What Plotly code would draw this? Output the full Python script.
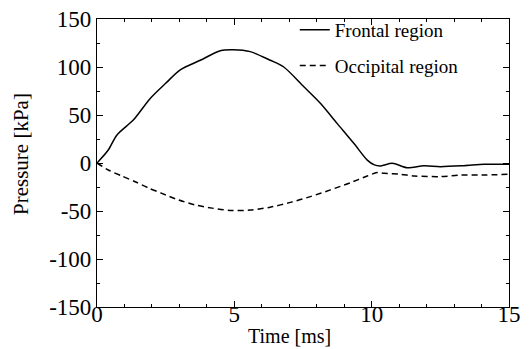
import plotly.graph_objects as go

# Frontal region (solid)
frontal_t = [0, 0.41, 0.72, 1.33, 1.93, 2.5, 3.03, 3.76, 4.49, 4.97, 5.58, 6.31, 6.8, 7.53,
             8.14, 8.75, 9.35, 9.84, 10.1, 10.33, 10.75, 11.3, 11.9, 12.5, 13.36, 14.1, 15.0]
frontal_p = [0, 13.5, 29, 45, 67, 83, 97, 107, 117, 118, 116, 107, 100, 79.5,
             62, 41, 20.5, 3, -2, -3, -0.3, -5, -2.8, -3.8, -2.8, -1.4, -1.4]

# Occipital region (dashed)
occ_t = [0, 0.41, 0.9, 1.39, 1.87, 2.36, 2.97, 3.58, 4.19, 4.85, 5.58, 6.31, 7.04, 7.77,
         8.5, 9.23, 9.84, 10.2, 10.45, 11.06, 11.55, 12.5, 13.25, 14.0, 15.0]
occ_p = [0, -7.3, -13.5, -19.5, -26, -31.6, -38.5, -43.7, -47, -49.5, -49, -46, -41, -35,
         -28, -20.5, -13.5, -10, -10.8, -11.8, -13.5, -14.2, -12.5, -12.5, -11.8]

x_ticks = [0, 5, 10, 15]
x_labels = ["0", "5", "10", "15"]
y_ticks = [-150, -100, -50, 0, 50, 100, 150]
y_labels = ["-150", "-100", "-50", "0", "50", "100", "150"]

FONT = "Liberation Serif"

fig = go.Figure()
fig.add_trace(go.Scatter(x=frontal_t, y=frontal_p, mode="lines", name="Frontal region",
                         line=dict(color="black", width=1.5, shape="spline", smoothing=0.8),
                         legendgroup="a"))
fig.add_trace(go.Scatter(x=occ_t, y=occ_p, mode="lines", name="Occipital region",
                         line=dict(color="black", width=1.5, dash="6px,4px", shape="spline", smoothing=0.8),
                         legendgroup="b"))

axis_common = dict(showline=True, linecolor="black", linewidth=1.2, mirror="ticks",
                   ticks="inside", ticklen=6, tickcolor="black", tickwidth=1,
                   showgrid=False, zeroline=False, automargin=False,
                   tickfont=dict(family=FONT, size=23, color="black"))

fig.update_xaxes(range=[0, 15], tickvals=x_ticks, ticktext=x_labels, ticklabelstandoff=-14,
                 minor=dict(dtick=1, ticks="inside", ticklen=3, tickcolor="black"),
                 **axis_common)
fig.update_yaxes(range=[-150, 150], tickvals=y_ticks, ticktext=y_labels, ticklabelstandoff=0,
                 minor=dict(dtick=25, ticks="inside", ticklen=3, tickcolor="black"),
                 **axis_common)

fig.update_layout(
    width=530, height=349,
    margin=dict(l=97, r=21, t=19, b=42, autoexpand=False),
    plot_bgcolor="white", paper_bgcolor="white",
    font=dict(family=FONT, color="black"),
    showlegend=True,
    legend=dict(x=0.48, y=1.028, xanchor="left", yanchor="top",
                bgcolor="rgba(0,0,0,0)", font=dict(family=FONT, size=19),
                tracegroupgap=8),
    annotations=[
        dict(text="Time [ms]", xref="paper", yref="paper", x=0.468, y=-0.1,
             xanchor="center", yanchor="middle", showarrow=False,
             font=dict(family=FONT, size=20)),
        dict(text="Pressure [kPa]", xref="paper", yref="paper", x=-0.183, y=0.53,
             xanchor="center", yanchor="middle", showarrow=False, textangle=-90,
             font=dict(family=FONT, size=21)),
    ],
)

fig.write_html("out.html", config={"displayModeBar": False},
               post_script="document.body.style.margin='0px';")
